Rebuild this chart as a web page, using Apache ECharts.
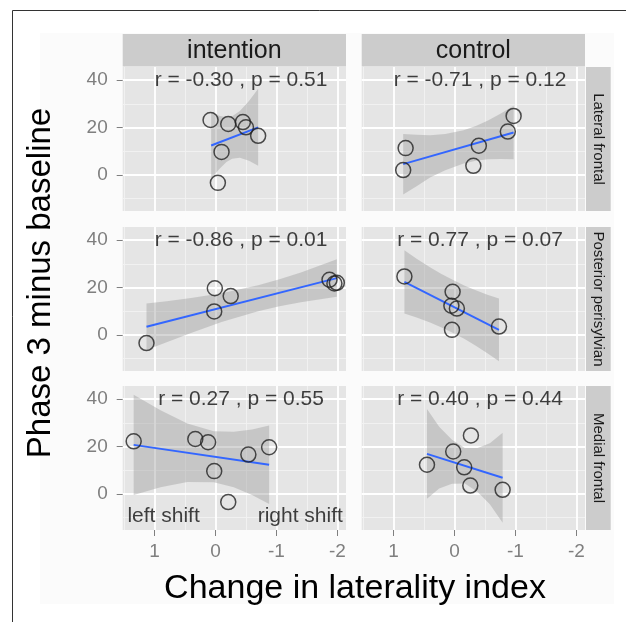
<!DOCTYPE html>
<html><head><meta charset="utf-8">
<script src="https://cdn.jsdelivr.net/npm/echarts@6/dist/echarts.min.js"></script>
<style>html,body{margin:0;padding:0;background:#fff}#c{width:626px;height:622px}</style>
</head><body><div id="c"></div>
<script>
// ---------- data ----------
const colNames = ['intention', 'control'];
const rowNames = ['Lateral frontal', 'Posterior perisylvian', 'Medial frontal'];
const xTicks = [1, 0, -1, -2];
const xMinor = [1.5, 0.5, -0.5, -1.5];
const yTicks = [0, 20, 40];
const yMinor = [-10, 10, 30];
const xTitle = 'Change in laterality index';
const yTitle = 'Phase 3 minus baseline';

// panels in reading order: row Lateral (intention, control), Posterior (...), Medial (...)
const p0X = [0.08, -0.21, -0.45, -0.50, -0.70, -0.10, -0.04];
const p0Y = [23.2, 21.5, 22.3, 20.1, 16.5, 9.7, -3.4];
const p1X = [-0.97, -0.875, -0.40, -0.31, 0.80, 0.84];
const p1Y = [24.9, 18.3, 12.3, 3.8, 11.3, 2.0];
const p2X = [1.13, 0.01, 0.02, -0.25, -1.87, -1.95, -1.99];
const p2Y = [-3.5, 19.7, 9.9, 16.4, 23.3, 21.7, 22.0];
const p3X = [0.82, 0.03, 0.05, -0.04, 0.04, -0.73];
const p3Y = [24.7, 18.2, 12.3, 11.1, 2.1, 3.5];
const p4X = [1.34, 0.33, 0.12, 0.02, -0.21, -0.54, -0.88];
const p4Y = [22.2, 23.2, 21.8, 9.6, -3.5, 16.6, 19.7];
const p5X = [-0.27, 0.02, 0.45, -0.16, -0.26, -0.79];
const p5Y = [24.7, 17.9, 12.3, 11.2, 3.5, 1.7];

// fitted lines (end points)
const f0X = [0.07, -0.70], f0Y = [12.4, 20.1];
const f1X = [0.84, -0.97], f1Y = [4.5, 17.9];
const f2X = [1.13, -1.99], f2Y = [3.4, 24.0];
const f3X = [0.82, -0.73], f3Y = [22.4, 2.1];
const f4X = [1.34, -0.88], f4Y = [20.7, 12.3];
const f5X = [0.45, -0.79], f5Y = [16.9, 6.8];

// confidence bands
const b0X = [0.07, -0.06, -0.18, -0.274, -0.40, -0.55, -0.70];
const b0Lo = [-1.8, 2.4, 5.4, 6.8, 7.2, 6.0, 3.8];
const b0Hi = [26.6, 25.0, 24.4, 24.8, 27.0, 31.2, 36.4];
const b1X = [0.84, 0.62, 0.4, 0.15, -0.15, -0.35, -0.55, -0.76, -0.97];
const b1Lo = [-8.3, -4.8, -1.1, 1.9, 4.8, 6.0, 6.6, 6.7, 6.6];
const b1Hi = [17.3, 17.0, 16.7, 17.3, 18.8, 20.6, 23.0, 25.9, 29.2];
const b2X = [1.13, 0.8, 0.4, -0.1, -0.7, -1.05, -1.4, -1.99];
const b2Lo = [-6.45, -3.1, 0.8, 5.4, 10.0, 12.1, 13.8, 16.05];
const b2Hi = [13.25, 14.2, 15.6, 17.6, 21.0, 23.5, 26.4, 31.95];
const b3X = [0.82, 0.62, 0.4, 0.22, 0.03, -0.16, -0.35, -0.54, -0.73];
const b3Lo = [9.0, 7.3, 5.2, 3.2, 0.85, -1.7, -4.6, -7.8, -11.15];
const b3Hi = [35.8, 32.2, 28.6, 25.8, 23.25, 20.9, 18.8, 17.0, 15.35];
const b4X = [1.34, 0.9, 0.46, 0.026, -0.3, -0.6, -0.88];
const b4Lo = [-0.5, 2.8, 5.0, 4.9, 2.8, -0.5, -4.3];
const b4Hi = [41.9, 35.3, 29.7, 26.5, 26.2, 27.2, 28.9];
const b5X = [0.45, 0.25, 0.04, -0.17, -0.38, -0.58, -0.79];
const b5Lo = [-2.1, 2.2, 4.3, 4.35, 0.8, -4.4, -12.2];
const b5Hi = [35.9, 28.4, 22.9, 19.35, 19.4, 21.4, 25.8];

const statText = ['r = -0.30 , p = 0.51', 'r = -0.71 , p = 0.12', 'r = -0.86 , p = 0.01',
                  'r = 0.77 , p = 0.07', 'r = 0.27 , p = 0.55', 'r = 0.40 , p = 0.44'];
const statX = -0.42, statY = 40;
const annText = ['left shift', 'right shift'];
const annX = [0.85, -1.39];
const annY = [-9.6, -9.6];
const annPanel = 4;

const xRange = [-2.14, 1.52];
const yRange = [-15.3, 45.6];

// ---------- layout / style ----------
const FONT = '"Liberation Sans", Arial, Helvetica, sans-serif';
const colLeft = [122.7, 361.7], panelW = 223.3;
const rowTop = [67, 227, 386], panelH = 144;
const stripTop = 34, stripH = 32.5;
const rStripX = 586, rStripW = 24.7;

const PX = [p0X, p1X, p2X, p3X, p4X, p5X];
const PY = [p0Y, p1Y, p2Y, p3Y, p4Y, p5Y];
const FX = [f0X, f1X, f2X, f3X, f4X, f5X];
const FY = [f0Y, f1Y, f2Y, f3Y, f4Y, f5Y];
const BX = [b0X, b1X, b2X, b3X, b4X, b5X];
const BLo = [b0Lo, b1Lo, b2Lo, b3Lo, b4Lo, b5Lo];
const BHi = [b0Hi, b1Hi, b2Hi, b3Hi, b4Hi, b5Hi];

function bandRenderer(i) {
  return function (params, api) {
    const up = BX[i].map((x, k) => api.coord([x, BHi[i][k]]));
    const lo = BX[i].map((x, k) => api.coord([x, BLo[i][k]])).reverse();
    return {type: 'polygon', shape: {points: up.concat(lo)},
      style: {fill: 'rgba(153,153,153,0.4)', stroke: 'none'}};
  };
}

const grid = [], xAxis = [], yAxis = [], series = [];
const minorX = [], minorY = [];
for (let r = 0; r < 3; r++) {
  for (let c = 0; c < 2; c++) {
    const i = r * 2 + c;
    grid.push({left: colLeft[c], top: rowTop[r], width: panelW, height: panelH,
      show: true, backgroundColor: '#e5e5e5', borderWidth: 0});
    xAxis.push({type: 'value', gridIndex: i, inverse: true, min: xRange[0], max: xRange[1], z: 1,
      position: 'bottom',
      axisLine: {show: false, onZero: false},
      axisTick: {show: r === 2, customValues: xTicks, length: 6, lineStyle: {color: '#7f7f7f', width: 1}},
      axisLabel: {show: r === 2, customValues: xTicks, margin: 12, color: '#7f7f7f', fontSize: 19, fontFamily: FONT},
      splitLine: {show: true, lineStyle: {color: '#ffffff', width: 1.8}}});
    yAxis.push({type: 'value', gridIndex: i, min: yRange[0], max: yRange[1], z: 1,
      position: 'left',
      axisLine: {show: false, onZero: false},
      axisTick: {show: c === 0, customValues: yTicks, length: 6, lineStyle: {color: '#7f7f7f', width: 1}},
      axisLabel: {show: c === 0, customValues: yTicks, margin: 15, color: '#7f7f7f', fontSize: 19, fontFamily: FONT},
      splitLine: {show: true, lineStyle: {color: '#ffffff', width: 1.8}}});
    minorX.push({type: 'value', gridIndex: i, inverse: true, min: xRange[0], max: xRange[1], z: 0,
      position: 'top',
      axisLine: {show: false, onZero: false}, axisTick: {show: false, customValues: xMinor},
      axisLabel: {show: false, customValues: xMinor},
      splitLine: {show: true, lineStyle: {color: '#f2f2f2', width: 0.9}}});
    minorY.push({type: 'value', gridIndex: i, min: yRange[0], max: yRange[1], z: 0,
      position: 'right',
      axisLine: {show: false, onZero: false}, axisTick: {show: false, customValues: yMinor},
      axisLabel: {show: false, customValues: yMinor},
      splitLine: {show: true, lineStyle: {color: '#f2f2f2', width: 0.9}}});

    // confidence band
    series.push({type: 'custom', xAxisIndex: i, yAxisIndex: i, silent: true, z: 2,
      renderItem: bandRenderer(i), clip: true,
      data: [[BX[i][0], BLo[i][0]]]});
    // fitted line
    series.push({type: 'line', xAxisIndex: i, yAxisIndex: i, symbol: 'none', silent: true, z: 3,
      lineStyle: {color: '#3366ff', width: 1.9},
      data: FX[i].map((x, k) => [x, FY[i][k]])});
    // points
    series.push({type: 'scatter', xAxisIndex: i, yAxisIndex: i, symbol: 'circle', symbolSize: 15, silent: true, z: 4,
      itemStyle: {color: 'rgba(0,0,0,0)', borderColor: '#222222', borderWidth: 1.5},
      data: PX[i].map((x, k) => [x, PY[i][k]])});
    // stat label
    series.push({type: 'scatter', xAxisIndex: i, yAxisIndex: i, symbolSize: 1, silent: true, z: 5,
      itemStyle: {color: 'rgba(0,0,0,0)'},
      label: {show: true, position: 'inside', formatter: statText[i], color: '#111111', fontSize: 21, fontFamily: FONT},
      data: [[statX, statY]]});
    if (i === annPanel) {
      series.push({type: 'scatter', xAxisIndex: i, yAxisIndex: i, symbolSize: 1, silent: true, z: 5,
        itemStyle: {color: 'rgba(0,0,0,0)'},
        label: {show: true, position: 'inside', formatter: p => p.name, color: '#111111', fontSize: 21, fontFamily: FONT},
        data: annText.map((t, k) => ({name: t, value: [annX[k], annY[k]]}))});
    }
  }
}

const graphic = [
  {type: 'rect', shape: {x: 40, y: 33, width: 574, height: 571}, style: {fill: '#fbfbfb'}, z: -10, silent: true},
  {type: 'rect', shape: {x: 12.5, y: 10.5, width: 700, height: 700}, style: {fill: 'none', stroke: '#333', lineWidth: 1}, z: -9, silent: true}
];
for (let c = 0; c < 2; c++) {
  graphic.push({type: 'rect', shape: {x: colLeft[c], y: stripTop, width: panelW, height: stripH},
    style: {fill: '#cccccc'}, silent: true});
  graphic.push({type: 'text', x: colLeft[c] + panelW / 2, y: stripTop + stripH / 2 + 1,
    style: {text: colNames[c], fill: '#1a1a1a', fontSize: 25, fontFamily: FONT,
      align: 'center', verticalAlign: 'middle', textAlign: 'center', textVerticalAlign: 'middle'}, silent: true});
}
for (let r = 0; r < 3; r++) {
  graphic.push({type: 'rect', shape: {x: rStripX, y: rowTop[r], width: rStripW, height: panelH},
    style: {fill: '#cccccc'}, silent: true});
  graphic.push({type: 'text', x: rStripX + rStripW / 2, y: rowTop[r] + panelH / 2, rotation: -Math.PI / 2,
    style: {text: rowNames[r], fill: '#1a1a1a', fontSize: 15, fontFamily: FONT,
      align: 'center', verticalAlign: 'middle', textAlign: 'center', textVerticalAlign: 'middle'}, silent: true});
}
graphic.push({type: 'text', x: 355, y: 589,
  style: {text: xTitle, fill: '#000', fontSize: 34, fontFamily: FONT,
    align: 'center', verticalAlign: 'middle', textAlign: 'center', textVerticalAlign: 'middle'}, silent: true});
graphic.push({type: 'text', x: 41, y: 283, rotation: Math.PI / 2,
  style: {text: yTitle, fill: '#000', fontSize: 33, fontFamily: FONT,
    align: 'center', verticalAlign: 'middle', textAlign: 'center', textVerticalAlign: 'middle'}, silent: true});

const chart = echarts.init(document.getElementById('c'), null, {renderer: 'canvas'});
chart.setOption({
  animation: false,
  backgroundColor: '#ffffff',
  grid: grid,
  xAxis: xAxis.concat(minorX),
  yAxis: yAxis.concat(minorY),
  series: series,
  graphic: graphic
});
</script></body></html>
